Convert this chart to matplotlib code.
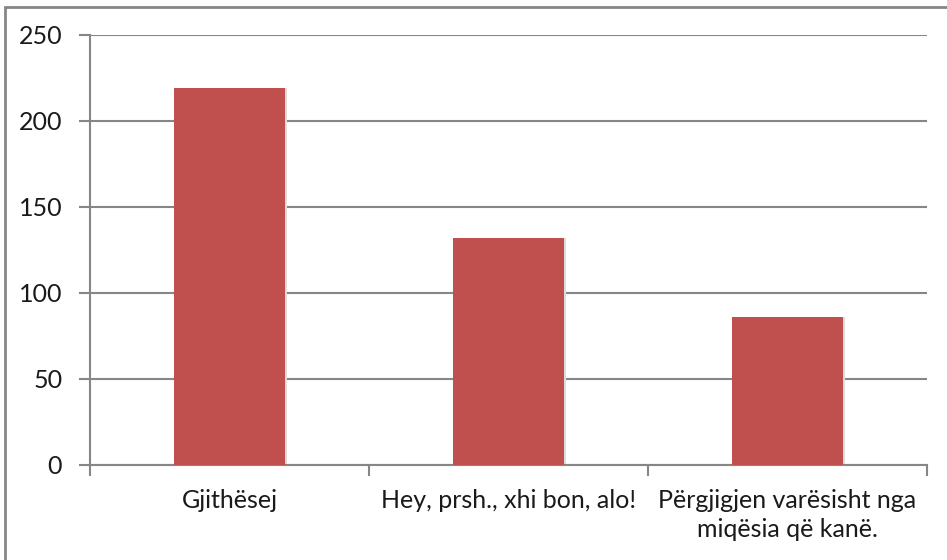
import matplotlib.pyplot as plt
import numpy as np
from matplotlib.patches import Rectangle

categories = ['Gjithësej', 'Hey, prsh., xhi bon, alo!', 'Përgjigjen varësisht nga\nmiqësia që kanë.']
values = [219, 132, 86]
yticks = [0, 50, 100, 150, 200, 250]

plt.rcParams['font.family'] = ['Lato', 'DejaVu Sans']

fig = plt.figure(figsize=(9.47, 5.6), dpi=100)
# chart frame (only left/top edges visible in the crop)
fig.patches.append(Rectangle((5/947, -0.1), 1.2, 1.1 - 7/560, transform=fig.transFigure,
                             fill=False, edgecolor='#868686', linewidth=2, zorder=0))

ax = fig.add_axes([90/947, 95/560, (927-90)/947, (465-35)/560])
x = np.arange(len(categories))
grid_c = '#868686'

# faint shadow behind bars
ax.bar(x + 0.01, values, width=0.395, color='#dcdcdc', zorder=2)
ax.bar(x, values, width=0.395, color='#c0504d', zorder=3)

ax.set_xlim(-0.5, 2.5)
ax.set_ylim(0, 250)
ax.set_yticks(yticks)
ax.yaxis.grid(True, color=grid_c, linewidth=1.5)
ax.set_axisbelow(True)

ax.set_xticks([-0.5, 0.5, 1.5, 2.5])
ax.set_xticklabels([])
ax.set_xticks(x, minor=True)
ax.set_xticklabels(categories, minor=True, fontsize=18, color='#1a1a1a', linespacing=1.35)
ax.tick_params(axis='x', which='major', length=8, width=1.5, color=grid_c, direction='out')
ax.tick_params(axis='x', which='minor', length=0, pad=17)
ax.tick_params(axis='y', length=8, width=1.5, color=grid_c, labelsize=18, labelcolor='#1a1a1a', pad=12)

for s in ['top', 'right']:
    ax.spines[s].set_visible(False)
for s in ['left', 'bottom']:
    ax.spines[s].set_color(grid_c)
    ax.spines[s].set_linewidth(1.5)

fig.savefig('out.png', dpi=100)
